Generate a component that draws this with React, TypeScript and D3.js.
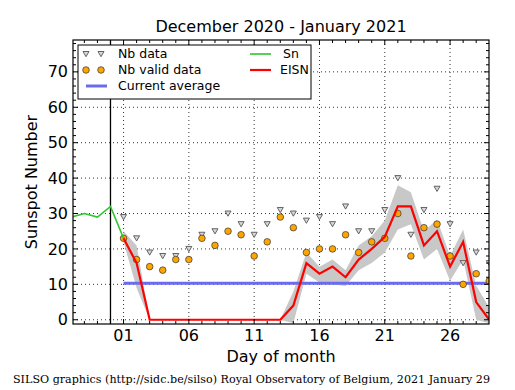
import React from 'react';
import * as d3 from 'd3';

// daily values, January 2021 (day 1..29)
const days = d3.range(1, 30);
const nbData = [29, 23, 19, 18, 18, 20, 24, 25, 30, 27, 24, 27, 31, 30, 28, 29, 27, 32, 25, 25, 31, 40, 24, 31, 37, 27, 16, 19, 16];
const nbValid = [23, 17, 15, 14, 17, 17, 23, 21, 25, 24, 18, 22, 29, 26, 19, 20, 20, 24, 19, 22, 23, 30, 18, 26, 27, 18, 10, 13, 11];
const eisn = [23, 16, 0, 0, 0, 0, 0, 0, 0, 0, 0, 0, 0, 4, 16, 13, 15, 12, 17, 20, 23.4, 32, 32, 21, 25, 15, 22, 5, 0];
const eisnLow = [22, 9, 0, 0, 0, 0, 0, 0, 0, 0, 0, 0, 0, -1, 13, 10.5, 10, 9.5, 14, 16, 19, 25.5, 27, 17, 20, 11, 17, 0, -1];
const eisnHigh = [25, 21, 0, 0, 0, 0, 0, 0, 0, 0, 0, 0, 0, 8, 19, 15, 17, 14, 21, 23.6, 28, 38, 36, 25, 28.3, 18, 25.5, 9.6, 3.5];
// end of December 2020 (day 0 = Dec 31)
const snDays = [-3, -2, -1, 0, 1];
const snValues = [29, 30, 29, 32, 23];
const currentAverage = 10.3;
const xTicks = [1, 6, 11, 16, 21, 26];
const xTickLabels = ['01', '06', '11', '16', '21', '26'];
const yTicks = [0, 10, 20, 30, 40, 50, 60, 70];

const W = 515;
const H = 390;
const margin = { top: 40, right: 26, bottom: 66, left: 73 };
const FONT = 'DejaVu Sans, sans-serif';

const App = () => {
  const iw = W - margin.left - margin.right;
  const ih = H - margin.top - margin.bottom;

  const x = d3.scaleLinear().domain([-2.87, 28.98]).range([0, iw]);
  const y = d3.scaleLinear().domain([-1.2, 79]).range([ih, 0]);

  const line = d3.line<[number, number]>().x(d => x(d[0])).y(d => y(d[1]));
  const area = d3.area<number>()
    .x((d, i) => x(days[i]))
    .y0((d, i) => y(eisnLow[i]))
    .y1((d, i) => y(eisnHigh[i]));

  const minorX = d3.range(-2, 29);
  const minorY = d3.range(0, 80, 2);

  // matplotlib 'v' marker
  const tri = (cx: number, cy: number) =>
    `M${cx - 3},${cy - 2.5} L${cx + 3},${cy - 2.5} L${cx},${cy + 2.7} Z`;

  return (
    <svg width={W} height={H} style={{ position: 'absolute', left: 0, top: 0, background: '#fff' }}
      fontFamily={FONT}>
      <defs>
        <clipPath id="plot">
          <rect x={0} y={0} width={iw} height={ih} />
        </clipPath>
      </defs>
      <text x={margin.left + iw / 2} y={32} textAnchor="middle" fontSize={16}>December 2020 - January 2021</text>
      <g transform={`translate(${margin.left},${margin.top})`}>
        <g clipPath="url(#plot)">
          {/* grid */}
          {xTicks.map(t => (
            <line key={'gx' + t} x1={x(t)} x2={x(t)} y1={0} y2={ih} stroke="#000" strokeWidth={0.8} strokeDasharray="1,3" />
          ))}
          {yTicks.map(t => (
            <line key={'gy' + t} x1={0} x2={iw} y1={y(t)} y2={y(t)} stroke="#000" strokeWidth={0.8} strokeDasharray="1,3" />
          ))}
          <path d={area(eisn) || ''} fill="#c8c8c8" />
          <line x1={x(0)} x2={x(0)} y1={0} y2={ih} stroke="#000" strokeWidth={1.3} />
          <line x1={x(1)} x2={x(29)} y1={y(currentAverage)} y2={y(currentAverage)} stroke="#6b6bf0" strokeWidth={3} />
          {days.map((d, i) => (
            <path key={'t' + d} d={tri(x(d), y(nbData[i]))} fill="#d8d8d8" stroke="#555" strokeWidth={0.9} />
          ))}
          {days.map((d, i) => (
            <circle key={'c' + d} cx={x(d)} cy={y(nbValid[i])} r={3.3} fill="#ffa500" stroke="#333" strokeWidth={0.7} />
          ))}
          <path d={line(snDays.map((d, i) => [d, snValues[i]] as [number, number])) || ''} fill="none" stroke="#2ec52e" strokeWidth={1.6} />
          <path d={line(days.map((d, i) => [d, eisn[i]] as [number, number])) || ''} fill="none" stroke="#ff0000" strokeWidth={2.2} />
        </g>
        {/* ticks, pointing inward on all sides */}
        {minorX.map(t => (
          <g key={'mx' + t}>
            <line x1={x(t)} x2={x(t)} y1={ih} y2={ih - (xTicks.includes(t) ? 5 : 3)} stroke="#000" />
            <line x1={x(t)} x2={x(t)} y1={0} y2={xTicks.includes(t) ? 5 : 3} stroke="#000" />
          </g>
        ))}
        {minorY.map(t => (
          <g key={'my' + t}>
            <line x1={0} x2={t % 10 === 0 ? 5 : 3} y1={y(t)} y2={y(t)} stroke="#000" />
            <line x1={iw} x2={iw - (t % 10 === 0 ? 5 : 3)} y1={y(t)} y2={y(t)} stroke="#000" />
          </g>
        ))}
        <rect x={0} y={0} width={iw} height={ih} fill="none" stroke="#000" strokeWidth={1.2} />
        {xTicks.map((t, i) => (
          <text key={'xl' + t} x={x(t)} y={ih + 17} textAnchor="middle" fontSize={16}>{xTickLabels[i]}</text>
        ))}
        {yTicks.map(t => (
          <text key={'yl' + t} x={-5} y={y(t)} dy="0.35em" textAnchor="end" fontSize={16}>{t}</text>
        ))}
        {/* legend */}
        <g transform="translate(5,5)">
          <rect x={0} y={0} width={233} height={54} fill="#fff" stroke="#000" strokeWidth={1} />
          <path d={tri(8, 9)} fill="#d8d8d8" stroke="#555" strokeWidth={0.9} />
          <path d={tri(23, 9)} fill="#d8d8d8" stroke="#555" strokeWidth={0.9} />
          <text x={40} y={9} dy="0.35em" fontSize={12.5}>Nb data</text>
          <circle cx={8} cy={25} r={3.3} fill="#ffa500" stroke="#333" strokeWidth={0.7} />
          <circle cx={23} cy={25} r={3.3} fill="#ffa500" stroke="#333" strokeWidth={0.7} />
          <text x={40} y={25} dy="0.35em" fontSize={12.5}>Nb valid data</text>
          <line x1={8} x2={29} y1={41} y2={41} stroke="#6b6bf0" strokeWidth={3} />
          <text x={40} y={41} dy="0.35em" fontSize={12.5}>Current average</text>
          <line x1={172} x2={193} y1={9} y2={9} stroke="#2ec52e" strokeWidth={1.6} />
          <text x={205} y={9} dy="0.35em" fontSize={12.5}>Sn</text>
          <line x1={172} x2={193} y1={25} y2={25} stroke="#ff0000" strokeWidth={2.2} />
          <text x={202} y={25} dy="0.35em" fontSize={12.5}>EISN</text>
        </g>
      </g>
      <text transform={`translate(37,${margin.top + ih / 2}) rotate(-90)`} textAnchor="middle" fontSize={16}>Sunspot Number</text>
      <text x={margin.left + iw / 2} y={362} textAnchor="middle" fontSize={16}>Day of month</text>
      <text x={13} y={383} fontSize={11.5} fontFamily="DejaVu Serif, serif" textLength={477} lengthAdjust="spacingAndGlyphs">
        SILSO graphics (http://sidc.be/silso) Royal Observatory of Belgium, 2021 January 29
      </text>
    </svg>
  );
};

export default App;
